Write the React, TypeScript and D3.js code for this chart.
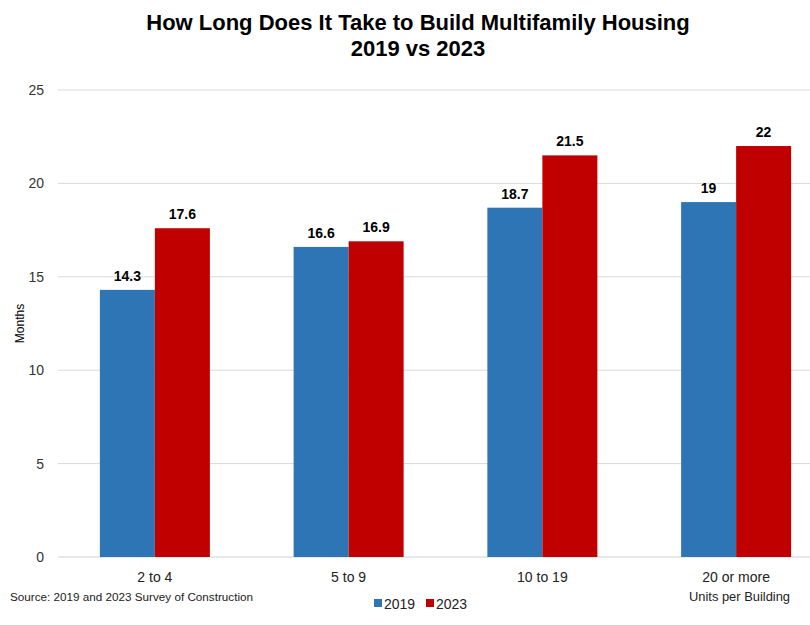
import React from "react";
import * as d3 from "d3";

const categories = ["2 to 4", "5 to 9", "10 to 19", "20 or more"];
const series = ["2019", "2023"];
const values2019 = [14.3, 16.6, 18.7, 19];
const values2023 = [17.6, 16.9, 21.5, 22];
const yTicks = [0, 5, 10, 15, 20, 25];
const colors = ["#2E75B6", "#C00000"];

const W = 810;
const H = 625;
const FONT = "'Liberation Sans', Arial, sans-serif";

export default function App() {
  const left = 58;
  const right = 833;
  const top = 90;
  const bottom = 557;
  const x = d3.scaleBand<string>().domain(categories).range([left, right]).paddingInner(0).paddingOuter(0);
  const y = d3.scaleLinear().domain([0, 25]).range([bottom, top]);
  const bw = 55;
  const data = [values2019, values2023];

  return (
    <svg width={W} height={H} style={{ display: "block", position: "absolute", left: 0, top: 0 }} fontFamily={FONT}>
      <rect width={W} height={H} fill="#fff" />
      <text x={418} y={30} textAnchor="middle" fontSize={22} fontWeight="bold" fill="#000">
        How Long Does It Take to Build Multifamily Housing
      </text>
      <text x={418} y={56} textAnchor="middle" fontSize={22} fontWeight="bold" fill="#000">
        2019 vs 2023
      </text>
      {yTicks.map((t) => (
        <g key={t}>
          <line x1={left} x2={right} y1={y(t)} y2={y(t)} stroke={t === 0 ? "#d0d0d0" : "#d9d9d9"} strokeWidth={1} />
          <text x={44} y={y(t) + 5} textAnchor="end" fontSize={14} fill="#333">
            {t}
          </text>
        </g>
      ))}
      <text transform={`translate(24,${(top + bottom) / 2}) rotate(-90)`} textAnchor="middle" fontSize={12} fill="#000">
        Months
      </text>
      {categories.map((c, i) => {
        const cx = (x(c) as number) + x.bandwidth() / 2;
        return (
          <g key={c}>
            {data.map((vals, s) => {
              const bx = cx - bw + s * bw;
              return (
                <g key={s}>
                  <rect x={bx} y={y(vals[i])} width={bw} height={bottom - y(vals[i])} fill={colors[s]} />
                  <text x={bx + bw / 2} y={y(vals[i]) - 9} textAnchor="middle" fontSize={14} fontWeight="bold" fill="#000">
                    {vals[i]}
                  </text>
                </g>
              );
            })}
            <text x={cx} y={582} textAnchor="middle" fontSize={14} fill="#222">
              {c}
            </text>
          </g>
        );
      })}
      <text x={10} y={601} fontSize={11.7} fill="#222">
        Source: 2019 and 2023 Survey of Construction
      </text>
      <text x={689} y={601} fontSize={12.9} fill="#222">
        Units per Building
      </text>
      {series.map((s, i) => {
        const lx = 374 + i * 52;
        return (
          <g key={s}>
            <rect x={lx} y={599} width={8} height={8} fill={colors[i]} />
            <text x={lx + 10} y={609} fontSize={14} fill="#222">
              {s}
            </text>
          </g>
        );
      })}
    </svg>
  );
}
